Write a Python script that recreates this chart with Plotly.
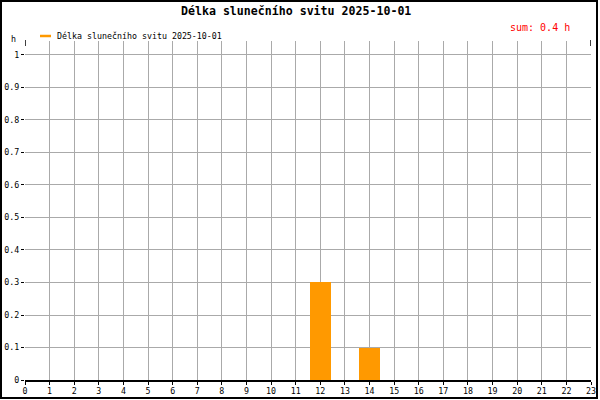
import plotly.graph_objects as go

hours = list(range(24))
sunshine = [0, 0, 0, 0, 0, 0, 0, 0, 0, 0, 0, 0, 0.3, 0, 0.1, 0, 0, 0, 0, 0, 0, 0, 0, 0]
y_ticks = [0, 0.1, 0.2, 0.3, 0.4, 0.5, 0.6, 0.7, 0.8, 0.9, 1]
y_tick_labels = ["0", "0.1", "0.2", "0.3", "0.4", "0.5", "0.6", "0.7", "0.8", "0.9", "1"]
title_text = "Délka slunečního svitu 2025-10-01"
series_name = "Délka slunečního svitu 2025-10-01"
sum_text = "sum: %.1f h" % sum(sunshine)

FONT = "DejaVu Sans Mono"
ORANGE = "#FF9900"

L, R, T, B = 25, 9, 41, 20
W, H = 600, 400
pw, ph = W - L - R, H - T - B

def px(x):
    return (x - L) / pw

def py(y):
    return (H - B - y) / ph

fig = go.Figure()
fig.add_trace(go.Bar(x=hours, y=sunshine, width=0.85, marker=dict(color=ORANGE, line=dict(width=0)),
                     name=series_name, showlegend=False, hoverinfo="skip"))

fig.update_layout(
    width=W, height=H,
    margin=dict(l=L, r=R, t=T, b=B, autoexpand=False),
    paper_bgcolor="white", plot_bgcolor="white",
    font=dict(family=FONT, size=8.3, color="black"),
    bargap=0,
    showlegend=False,
    xaxis=dict(range=[0, 23], tickmode="array", tickvals=hours, ticktext=[str(h) for h in hours],
               showgrid=True, gridcolor="#aaaaaa", gridwidth=1, zeroline=False, automargin=False,
               showline=True, linecolor="black", linewidth=1.5,
               ticks="outside", ticklen=3, tickcolor="black", tickfont=dict(size=8.3, family=FONT)),
    yaxis=dict(range=[0, 1.043], tickmode="array", tickvals=y_ticks, ticktext=y_tick_labels,
               showgrid=True, gridcolor="#aaaaaa", gridwidth=1, zeroline=False, showline=False, automargin=False,
               ticks="outside", ticklen=3, tickcolor="black", tickfont=dict(size=8.3, family=FONT)),
)

shapes = []
# top black stubs of the axis frame
for xv in [0, 23]:
    shapes.append(dict(type="line", xref="x", yref="paper", x0=xv, x1=xv, y0=py(46), y1=py(40),
                       line=dict(color="black", width=1.5)))
# legend line
shapes.append(dict(type="line", xref="paper", yref="paper", x0=px(40), x1=px(51), y0=py(36), y1=py(36),
                   line=dict(color=ORANGE, width=2.5)))
# outer border
shapes.append(dict(type="rect", xref="paper", yref="paper", x0=px(1), x1=px(597), y0=py(1), y1=py(398),
                   line=dict(color="black", width=2), fillcolor="rgba(0,0,0,0)"))
fig.update_layout(shapes=shapes)

annotations = [
    dict(text="<b>" + title_text + "</b>", xref="paper", yref="paper", x=px(296), y=py(11),
         showarrow=False, xanchor="center", yanchor="middle", font=dict(size=11.6, family=FONT, color="black")),
    dict(text=series_name, xref="paper", yref="paper", x=px(55), y=py(36),
         showarrow=False, xanchor="left", yanchor="middle", font=dict(size=8.3, family=FONT, color="black")),
    dict(text=sum_text, xref="paper", yref="paper", x=px(572), y=py(27),
         showarrow=False, xanchor="right", yanchor="middle", font=dict(size=10, family=FONT, color="red")),
    dict(text="h", xref="paper", yref="paper", x=px(13), y=py(39),
         showarrow=False, xanchor="center", yanchor="middle", font=dict(size=8.3, family=FONT, color="black")),
]
fig.update_layout(annotations=annotations)

fig.write_html("out.html",
               config={"displayModeBar": False, "staticPlot": True},
               post_script="document.body.style.margin='0';document.body.style.padding='0';document.body.style.overflow='hidden';")
